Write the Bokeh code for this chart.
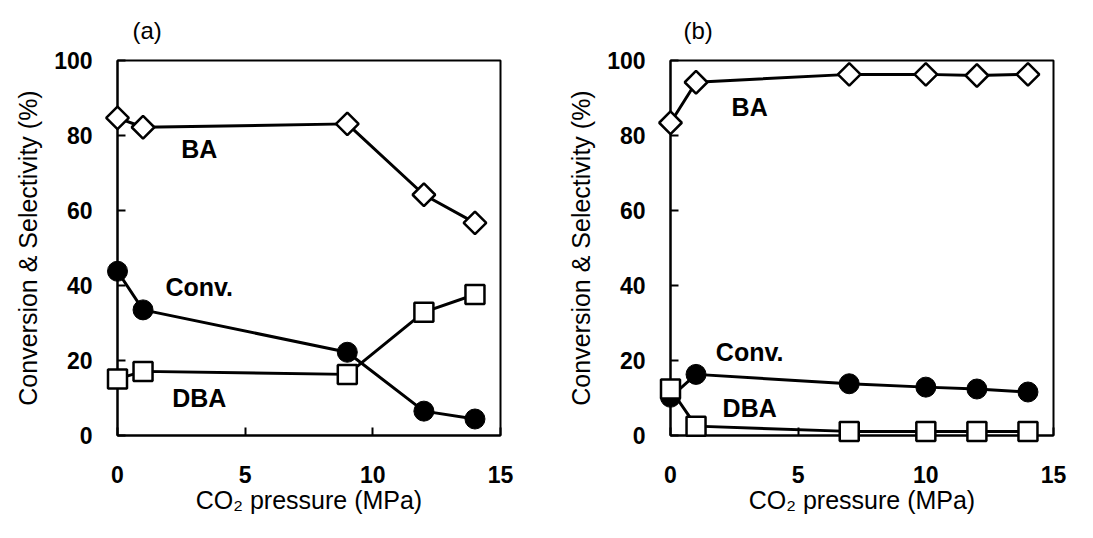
from bokeh.plotting import figure
from bokeh.layouts import row
from bokeh.models import Range1d, FixedTicker, BoxAnnotation, LinearAxis
from bokeh.core.properties import value
from bokeh.embed import file_html
from bokeh.resources import INLINE

# ---- data ----
a_x = [0, 1, 9, 12, 14]
a_ba = [84.7, 82.2, 83.1, 64.2, 56.7]
a_conv = [43.8, 33.5, 22.2, 6.5, 4.4]
a_dba = [15.1, 17.1, 16.3, 32.9, 37.6]

b_x = [0, 1, 7, 10, 12, 14]
b_ba = [83.4, 94.2, 96.3, 96.3, 96.0, 96.3]
b_conv = [10.2, 16.3, 13.8, 12.9, 12.4, 11.6]
b_dba = [12.4, 2.5, 1.1, 1.1, 1.1, 1.1]

x_ticks = [0, 5, 10, 15]
y_ticks = [0, 20, 40, 60, 80, 100]
series_names = ["BA", "Conv.", "DBA"]

FONT = "Liberation Sans"

X0, X1 = 0, 15
Y0, Y1 = 0, 100
BOX_W, BOX_H = 383, 375
PAD = 14  # px of room around the box so edge markers are not clipped
px_x = BOX_W / (X1 - X0)
px_y = BOX_H / (Y1 - Y0)
padx = PAD / px_x
pady = PAD / px_y


def make_panel(title, title_offset, xs, ba, conv, dba, width, box_left, lab_pos):
    frame_left = box_left - PAD
    frame_w = BOX_W + 2 * PAD
    frame_h = BOX_H + 2 * PAD
    top = 60 - PAD
    height = 530
    p = figure(width=width, height=height, output_backend="svg", toolbar_location=None,
               x_range=Range1d(X0 - padx, X1 + padx),
               y_range=Range1d(Y0 - pady, Y1 + pady),
               min_border_left=frame_left,
               min_border_right=width - frame_left - frame_w,
               min_border_top=top,
               min_border_bottom=height - top - frame_h)
    p.grid.visible = False
    p.background_fill_color = "white"
    p.border_fill_color = "white"
    p.outline_line_color = None

    p.title.text = title
    p.title.text_font = FONT
    p.title.text_font_size = "24px"
    p.title.text_font_style = "normal"
    p.title.text_color = "black"
    p.title.align = "left"
    p.title.offset = title_offset
    p.title.standoff = 6

    # label axes at frame edges (text only)
    for ax in (p.xaxis[0], p.yaxis[0]):
        ax.axis_line_color = None
        ax.major_tick_line_color = None
        ax.major_tick_in = 0
        ax.major_tick_out = 0
        ax.minor_tick_line_color = None
        ax.major_label_text_font = FONT
        ax.major_label_text_font_size = "23px"
        ax.major_label_text_font_style = "bold"
        ax.major_label_text_color = "black"
        ax.axis_label_text_font = FONT
        ax.axis_label_text_font_size = "25px"
        ax.axis_label_text_font_style = "normal"
        ax.axis_label_text_color = "black"
    p.xaxis.ticker = FixedTicker(ticks=x_ticks)
    p.yaxis.ticker = FixedTicker(ticks=y_ticks)
    p.xaxis.major_label_standoff = 16
    p.yaxis.major_label_standoff = 11
    p.xaxis.axis_label = "CO\u2082 pressure (MPa)"
    p.yaxis.axis_label = "Conversion & Selectivity (%)"
    p.xaxis.axis_label_standoff = 0
    p.yaxis.axis_label_standoff = 9

    # line + tick axes placed at the data origin, drawn beneath the marks
    for dim_ticks, bounds, side in ((x_ticks, (X0, X1), "below"),
                                    (y_ticks, (Y0, Y1), "left")):
        lax = LinearAxis(fixed_location=0, bounds=bounds,
                         ticker=FixedTicker(ticks=dim_ticks), level="underlay",
                         axis_line_width=2, axis_line_color="black",
                         major_tick_in=8, major_tick_out=0, major_tick_line_width=2,
                         minor_tick_line_color=None,
                         major_label_text_font_size="0px",
                         major_label_text_color=None)
        p.add_layout(lax, side)

    box = BoxAnnotation(left=X0, right=X1, bottom=Y0, top=Y1, fill_alpha=0,
                        line_color="black", line_alpha=1, line_width=2,
                        level="underlay")
    p.add_layout(box)

    # BA
    p.line(xs, ba, line_color="black", line_width=3)
    p.scatter(xs, ba, marker="square", angle=0.785398, size=16,
              fill_color="white", line_color="black", line_width=2.5)
    # Conv
    p.line(xs, conv, line_color="black", line_width=3)
    p.scatter(xs, conv, marker="circle", size=20,
              fill_color="black", line_color="black", line_width=1)
    # DBA
    p.line(xs, dba, line_color="black", line_width=3)
    p.scatter(xs, dba, marker="square", size=19,
              fill_color="white", line_color="black", line_width=2.5)

    lx = [q[0] for q in lab_pos]
    ly = [q[1] for q in lab_pos]
    p.text(lx, ly, text=series_names, text_font=value(FONT), text_font_size="25px",
           text_font_style="bold", text_align="center", text_baseline="middle",
           text_color="black")
    return p


pa = make_panel("(a)", 29, a_x, a_ba, a_conv, a_dba, 546, 117,
                [(3.2, 76.3), (3.2, 39.7), (3.2, 10.1)])
pb = make_panel("(b)", 27, b_x, b_ba, b_conv, b_dba, 538, 124,
                [(3.1, 87.5), (3.1, 22.2), (3.1, 7.4)])

layout = row(pa, pb)
open("out.html", "w").write(file_html(layout, INLINE))
